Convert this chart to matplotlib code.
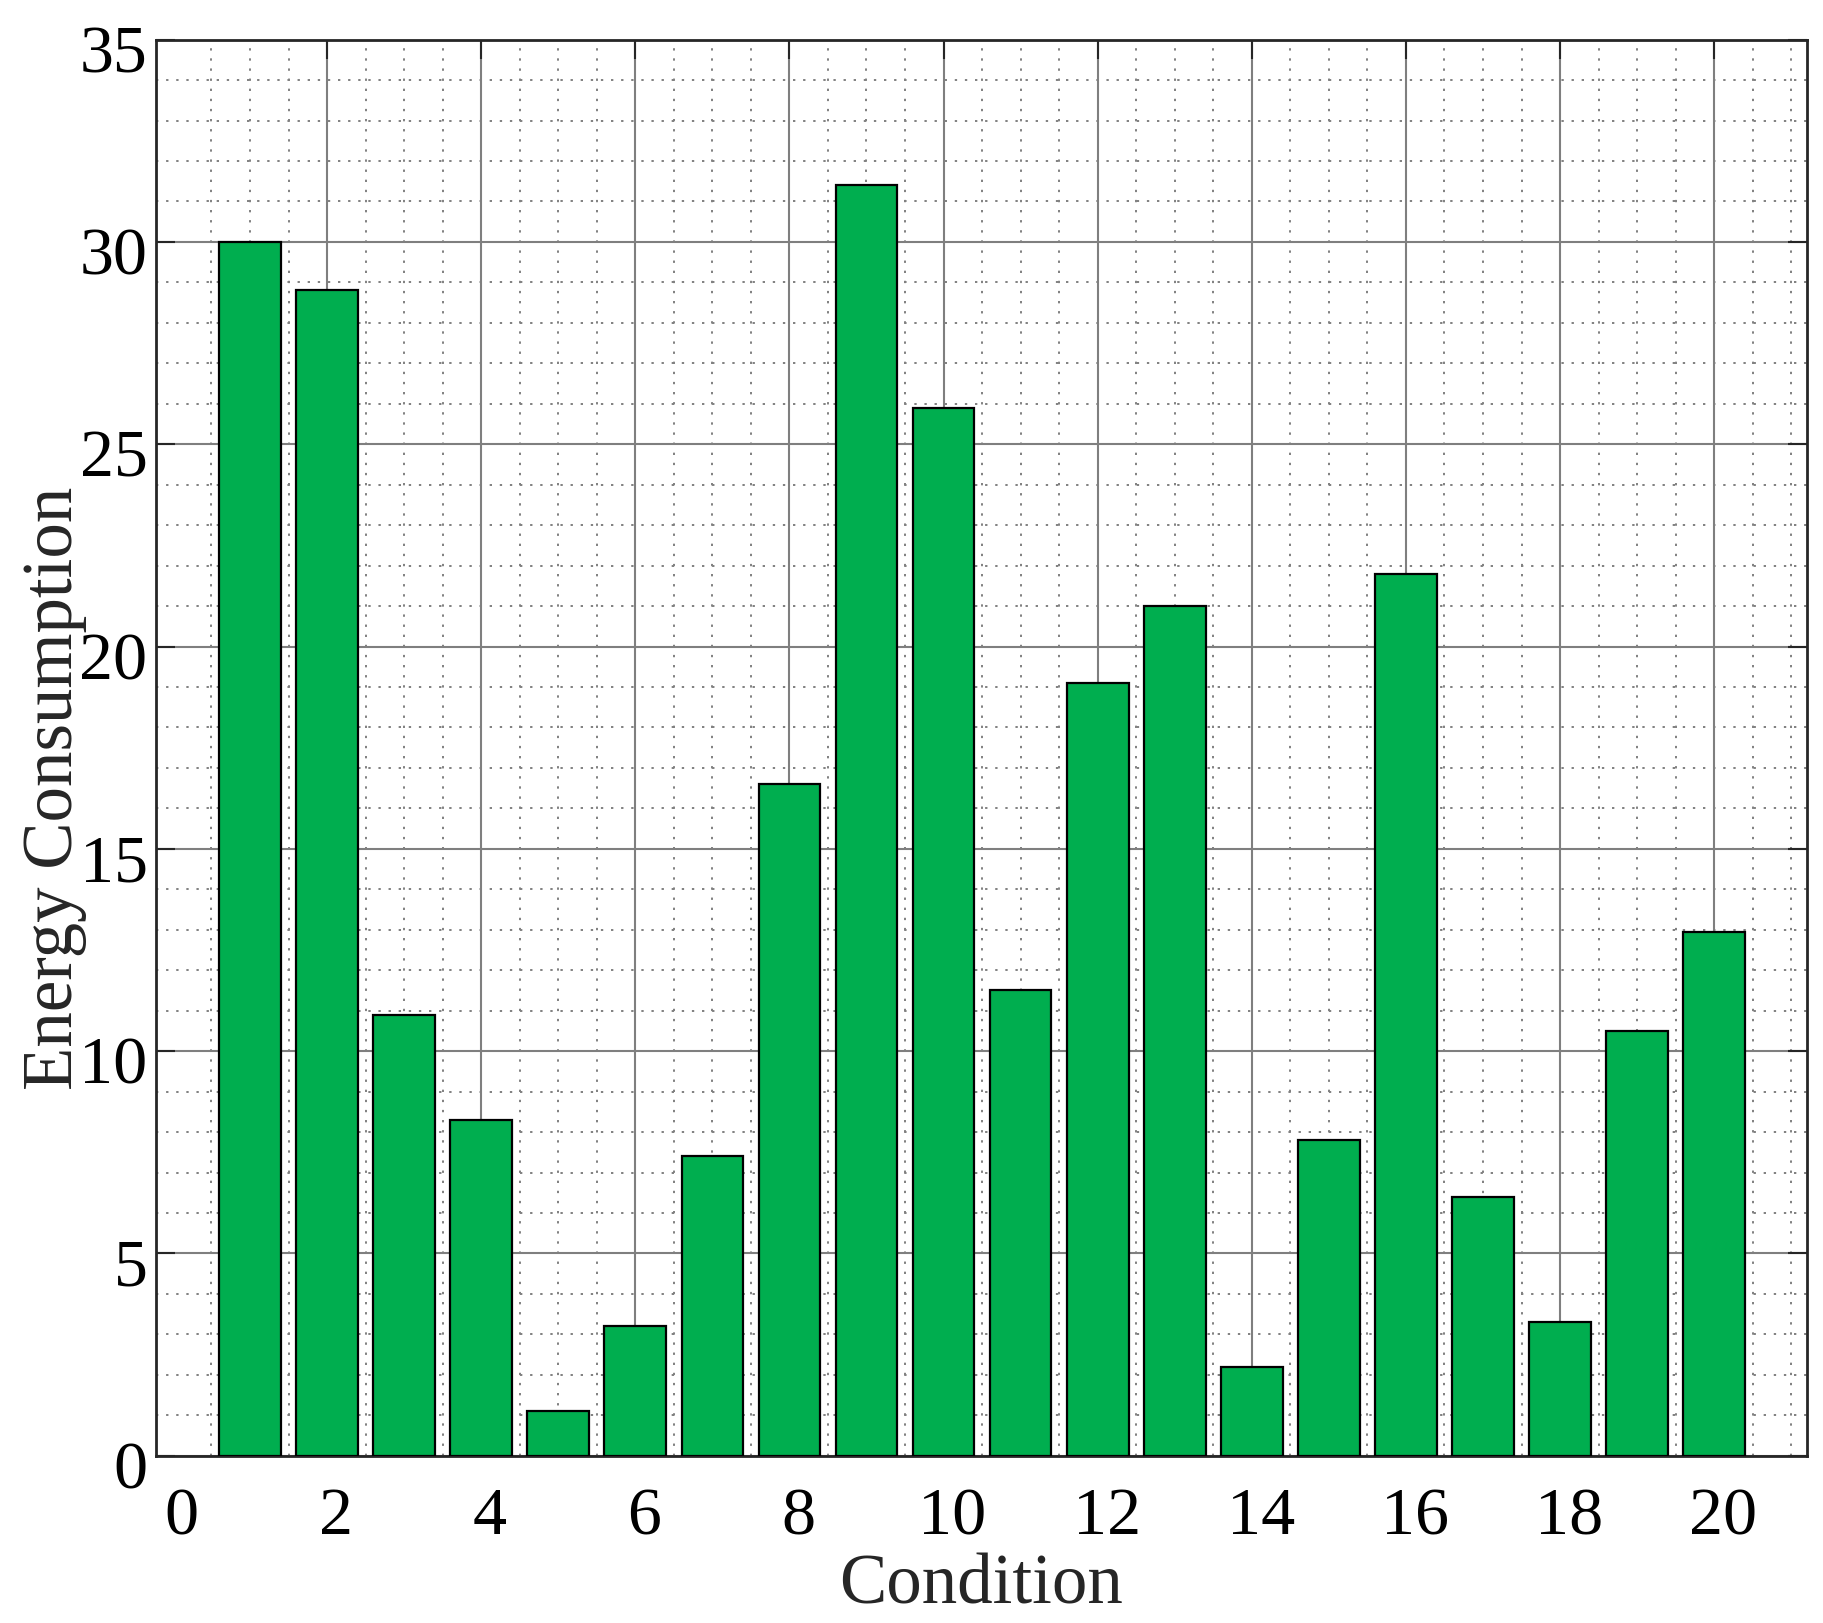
import matplotlib
matplotlib.use("Agg")
import matplotlib.pyplot as plt
from matplotlib.ticker import MultipleLocator, FixedLocator
import matplotlib.transforms as mtransforms

conditions = list(range(1, 21))
energy = [30.0, 28.8, 10.9, 8.3, 1.1, 3.2, 7.4, 16.6, 31.4, 25.9,
          11.5, 19.1, 21.0, 2.2, 7.8, 21.8, 6.4, 3.3, 10.5, 12.95]
xticks = list(range(0, 21, 2))
yticks = list(range(0, 36, 5))

plt.rcParams['font.family'] = ['Liberation Serif', 'DejaVu Serif']

fig = plt.figure(figsize=(18.24, 16.24), dpi=100)
ax = fig.add_axes([0.0855, 0.103, 0.905, 0.872])

ax.bar(conditions, energy, width=0.8, color='#00AE4F', edgecolor='black',
       linewidth=1.6, zorder=3)

ax.set_xlim(-0.22, 21.2)
ax.set_ylim(0, 35)
ax.xaxis.set_major_locator(FixedLocator(xticks))
ax.yaxis.set_major_locator(FixedLocator(yticks))
ax.xaxis.set_minor_locator(FixedLocator([v * 0.5 for v in range(1, 43) if v % 4 != 0]))
ax.yaxis.set_minor_locator(MultipleLocator(1))

ax.grid(which='major', color='#7f7f7f', linewidth=1.5, linestyle='-', zorder=0)
ax.grid(which='minor', color='#808080', linewidth=1.4, linestyle=(0, (1.2, 4)), zorder=0)
ax.set_axisbelow(True)
ax.xaxis.get_gridlines()[0].set_visible(False)

ax.tick_params(which='major', direction='in', length=14, width=1.5, color='#262626',
               top=True, right=True, labelsize=49)
ax.tick_params(axis='x', which='major', pad=22)
ax.tick_params(axis='y', which='major', pad=6)
ax.tick_params(which='minor', length=0)
ax.xaxis.get_major_ticks()[0].tick1line.set_visible(False)
ax.xaxis.get_major_ticks()[0].tick2line.set_visible(False)
offset = mtransforms.ScaledTranslation(0.09, 0, fig.dpi_scale_trans)
for lab in ax.get_xticklabels():
    lab.set_transform(lab.get_transform() + offset)
yoff = mtransforms.ScaledTranslation(0, -0.08, fig.dpi_scale_trans)
for lab in ax.get_yticklabels():
    lab.set_transform(lab.get_transform() + yoff)

for s in ax.spines.values():
    s.set_linewidth(2.0)
    s.set_color('#262626')

ax.set_xlabel('Condition', fontsize=51, color='#262626', labelpad=4)
ax.set_ylabel('Energy Consumption', fontsize=51, color='#262626')
ax.yaxis.set_label_coords(-0.042, 0.472)

fig.savefig('out.png', dpi=100, facecolor='white')
